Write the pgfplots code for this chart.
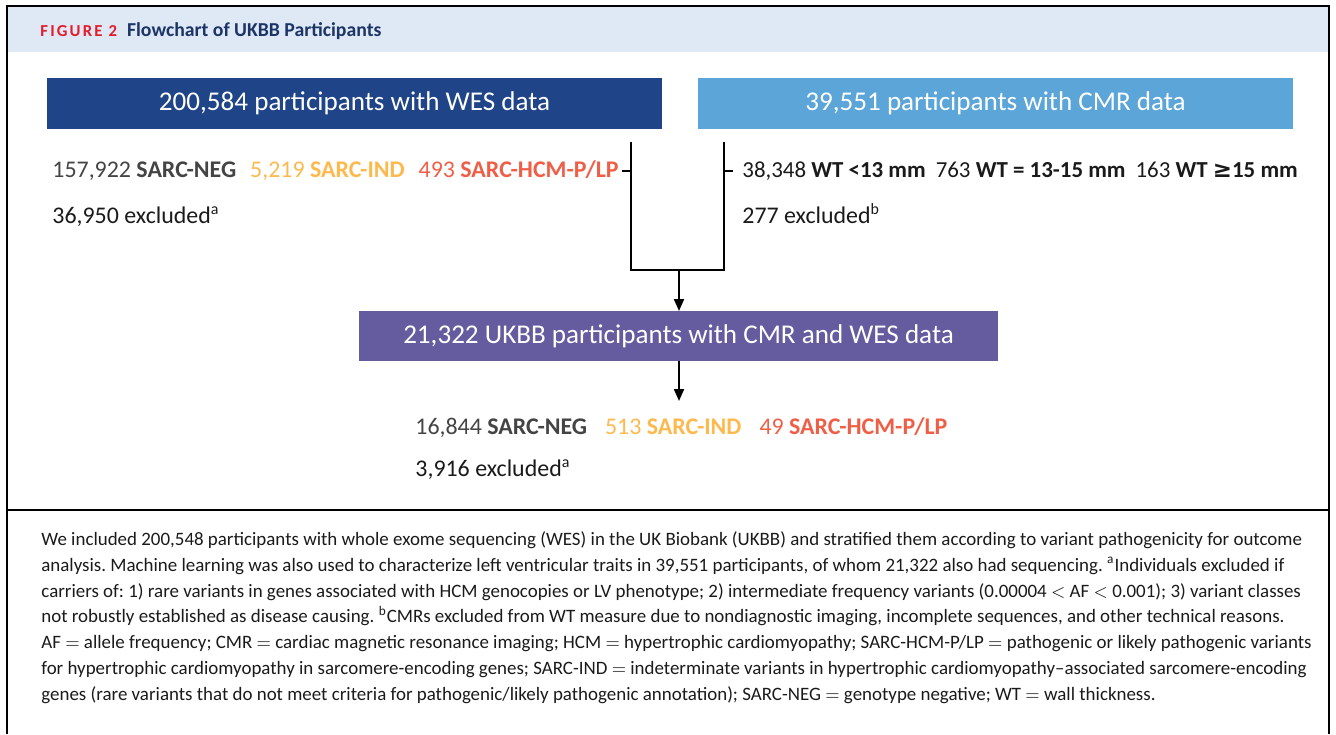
\documentclass[border=0pt]{standalone}
\usepackage{fontspec}
\setmainfont{Carlito}
\newfontfamily\symfont{DejaVu Sans}
\usepackage{pgfplots}
\pgfplotsset{compat=1.18}
\usetikzlibrary{arrows.meta}
\definecolor{navybox}{HTML}{1F4488}
\definecolor{skybox}{HTML}{5BA5D9}
\definecolor{purplebox}{HTML}{655C9F}
\definecolor{headbg}{HTML}{DEE9F5}
\definecolor{figred}{HTML}{E31B2B}
\definecolor{headnavy}{HTML}{1C3466}
\definecolor{darkgray}{HTML}{444444}
\definecolor{textblack}{HTML}{1A1A1A}
\definecolor{ind}{HTML}{FDB94E}
\definecolor{hcm}{HTML}{EF5F47}
\begin{document}
\frenchspacing
\begin{tikzpicture}
\begin{axis}[width=668bp,height=367bp,scale only axis,hide axis,
  xmin=0,xmax=1336,ymin=0,ymax=734,y dir=reverse,clip=false]
% full canvas (sets the bounding box)
\addplot[draw=none,forget plot] coordinates {(0,0)(1336,0)(1336,734)(0,734)};
% header band
\addplot[draw=none,fill=headbg] coordinates {(8,7)(1328,7)(1328,52)(8,52)} -- cycle;
% outer frame
\addplot[black,line width=1bp] coordinates {(7,734)(7,6)(1329,6)(1329,734)};
\addplot[black,line width=1bp] coordinates {(7,510)(1329,510)};
% boxes
\addplot[draw=none,fill=navybox] coordinates {(47,78)(662,78)(662,129)(47,129)} -- cycle;
\addplot[draw=none,fill=skybox] coordinates {(698,78)(1293,78)(1293,129)(698,129)} -- cycle;
\addplot[draw=none,fill=purplebox] coordinates {(359,311)(998,311)(998,361)(359,361)} -- cycle;
% connectors
\addplot[black,line width=1bp] coordinates {(622,171)(631,171)};
\addplot[black,line width=1bp] coordinates {(724,171)(733,171)};
\addplot[black,line width=1bp] coordinates {(631,142)(631,270)(724,270)(724,142)};
\addplot[black,line width=1bp,-{Triangle[length=6bp,width=5bp]}] coordinates {(679,270)(679,311)};
\addplot[black,line width=1bp,-{Triangle[length=6bp,width=5bp]}] coordinates {(679,361)(679,401)};
% header text
\node[anchor=base west,inner sep=0] at (axis cs:40,36.5) {\bfseries{\fontsize{8.4}{9}\selectfont\color{figred}\addfontfeatures{LetterSpace=13}FIGURE 2}\hspace{5bp}{\fontsize{9.9}{11}\selectfont\color{headnavy}Flowchart of UKBB Participants}};
% box text
\node[inner sep=0,text=white] at (axis cs:354.5,103) {\fontsize{13.6}{15}\selectfont 200,584 participants with WES data};
\node[inner sep=0,text=white] at (axis cs:995.5,103) {\fontsize{13.6}{15}\selectfont 39,551 participants with CMR data};
\node[inner sep=0,text=white] at (axis cs:678.5,336) {\fontsize{13.6}{15}\selectfont 21,322 UKBB participants with CMR and WES data};
% row texts
\node[anchor=base west,inner sep=0] at (axis cs:52,177) {\fontsize{12}{13}\selectfont{\color{darkgray}157,922 \textbf{SARC-NEG}}\hspace{7bp}{\color{ind}5,219 \textbf{SARC-IND}}\hspace{7bp}{\color{hcm}493 \textbf{SARC-HCM-P/LP}}};
\node[anchor=base west,inner sep=0,text=textblack] at (axis cs:52,223) {\fontsize{12}{13}\selectfont 36,950 excluded\textsuperscript{a}};
\node[anchor=base west,inner sep=0,text=textblack] at (axis cs:742,177) {\fontsize{11.5}{13}\selectfont 38,348 \textbf{WT <13 mm}\hspace{5bp}763 \textbf{WT = 13-15 mm}\hspace{5bp}163 \textbf{WT {\symfont\bfseries ≥}15 mm}};
\node[anchor=base west,inner sep=0,text=textblack] at (axis cs:742,223) {\fontsize{12}{13}\selectfont 277 excluded\textsuperscript{b}};
\node[anchor=base west,inner sep=0] at (axis cs:415,434) {\fontsize{12}{13}\selectfont{\color{darkgray}16,844 \textbf{SARC-NEG}}\hspace{9bp}{\color{ind}513 \textbf{SARC-IND}}\hspace{9bp}{\color{hcm}49 \textbf{SARC-HCM-P/LP}}};
\node[anchor=base west,inner sep=0,text=textblack] at (axis cs:415,476) {\fontsize{12}{13}\selectfont 3,916 excluded\textsuperscript{a}};
% caption
\node[anchor=north west,inner sep=0,align=left,text=textblack,font=\fontsize{9.5}{13}\selectfont] at (axis cs:41,531) {We included 200,548 participants with whole exome sequencing (WES) in the UK Biobank (UKBB) and stratified them according to variant pathogenicity for outcome\\
analysis. Machine learning was also used to characterize left ventricular traits in 39,551 participants, of whom 21,322 also had sequencing. \textsuperscript{a}Individuals excluded if\\
carriers of: 1) rare variants in genes associated with HCM genocopies or LV phenotype; 2) intermediate frequency variants (0.00004 $<$ AF $<$ 0.001); 3) variant classes\\
not robustly established as disease causing. \textsuperscript{b}CMRs excluded from WT measure due to nondiagnostic imaging, incomplete sequences, and other technical reasons.\\
AF $=$ allele frequency; CMR $=$ cardiac magnetic resonance imaging; HCM $=$ hypertrophic cardiomyopathy; SARC-HCM-P/LP $=$ pathogenic or likely pathogenic variants\\
for hypertrophic cardiomyopathy in sarcomere-encoding genes; SARC-IND $=$ indeterminate variants in hypertrophic cardiomyopathy--associated sarcomere-encoding\\
genes (rare variants that do not meet criteria for pathogenic/likely pathogenic annotation); SARC-NEG $=$ genotype negative; WT $=$ wall thickness.};
\end{axis}
\end{tikzpicture}
\end{document}
